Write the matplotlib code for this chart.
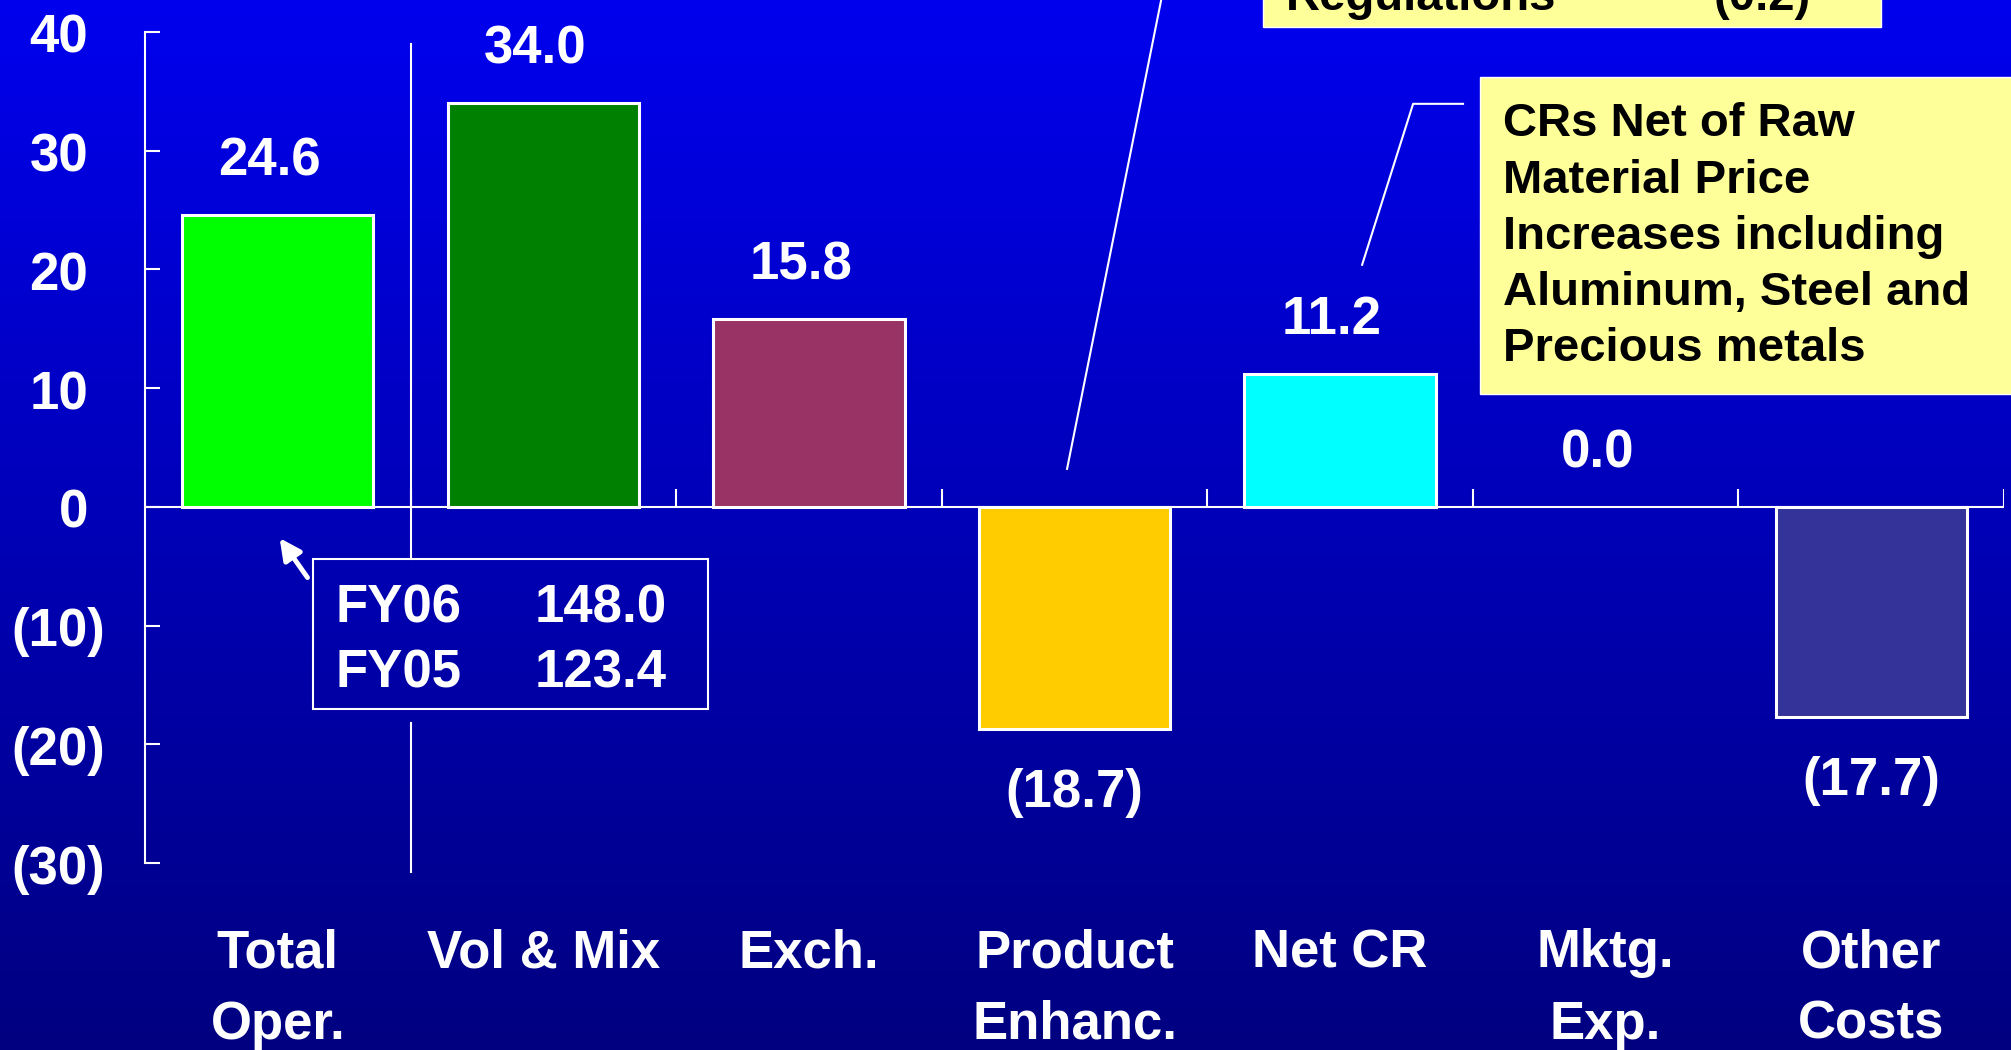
import numpy as np
import matplotlib
matplotlib.use("Agg")
import matplotlib.pyplot as plt
from matplotlib.patches import Rectangle
from matplotlib.colors import LinearSegmentedColormap

plt.rcParams["font.family"] = ["Liberation Sans", "DejaVu Sans"]
plt.rcParams["font.weight"] = "bold"

# operating income bridge, FY05 -> FY06
categories = ["Total\nOper.", "Vol & Mix", "Exch.", "Product\nEnhanc.", "Net CR", "Mktg.\nExp.", "Other\nCosts"]
values = [24.6, 34.0, 15.8, -18.7, 11.2, 0.0, -17.7]
bar_colors = ["#00FF00", "#008000", "#993366", "#FFCC00", "#00FFFF", "#0000CC", "#333399"]
y_ticks = [40, 30, 20, 10, 0, -10, -20, -30]

fy_years = ["FY06", "FY05"]
fy_totals = [148.0, 123.4]

cr_note = ["CRs Net of Raw", "Material Price", "Increases including", "Aluminum, Steel and", "Precious metals"]
reg_label = "Regulations"
reg_value = -0.2


def fmt(v, digits=1):
    s = f"{abs(v):.{digits}f}"
    return f"({s})" if v < 0 else s


W, H = 2011, 1050
fig = plt.figure(figsize=(W / 100, H / 100), dpi=100)

# blue gradient background
bg = fig.add_axes([0, 0, 1, 1], zorder=0)
cmap = LinearSegmentedColormap.from_list("bg", ["#0000EE", "#000080"])
bg.imshow(np.linspace(0, 1, 256).reshape(-1, 1), aspect="auto", cmap=cmap,
          extent=[0, 1, 0, 1], origin="upper")
bg.axis("off")

ax = fig.add_axes([145 / W, 1 - 863 / H, 1859 / W, 831 / H], zorder=1)
ax.set_facecolor("none")

x = np.arange(len(values))
edges = ["white" if v != 0 else "none" for v in values]
ax.bar(x, values, width=0.72, color=bar_colors, edgecolor=edges, linewidth=2.2, zorder=3)

ax.set_xlim(-0.5, len(values) - 0.5)
ax.set_ylim(-30, 40)

ax.axhline(0, color="white", lw=1.5, zorder=2)
ax.vlines(x + 0.5, 0, 1.5, color="white", lw=1.5, zorder=2)

for s in ["top", "right", "bottom"]:
    ax.spines[s].set_visible(False)
ax.spines["left"].set_color("white")
ax.spines["left"].set_linewidth(1.5)

ax.set_yticks(y_ticks)
ax.tick_params(axis="y", direction="in", length=11, width=1.5, color="white", labelleft=False)
for t in y_ticks:
    ax.annotate(fmt(t, 0), (0, t), xycoords=("axes fraction", "data"),
                xytext=(-29 if t < 0 else -41, -1), textcoords="offset points",
                ha="right", va="center_baseline", color="white", fontsize=38)

ax.set_xticks(x)
ax.set_xticklabels(categories, color="white", fontsize=38, linespacing=1.55)
ax.tick_params(axis="x", length=0, pad=47)

# value labels, positives keep the space a ")" would take
for xi, v in zip(x, values):
    dy = 38.5 if v >= 0 else -46
    dx = -6 if v >= 0 else 0
    ax.annotate(fmt(v), (xi, v), xytext=(dx, dy), textcoords="offset points",
                ha="center", va="center", color="white", fontsize=38)

# FY totals box
box_l, box_r, box_b, box_t = 0.133, 1.62, -17.0, -4.38
ax.add_patch(Rectangle((box_l, box_b), box_r - box_l, box_t - box_b, fill=False,
                       edgecolor="white", lw=1.5, zorder=4))
for yr, tot, yy in zip(fy_years, fy_totals, [-8.6, -14.0]):
    ax.text(0.219, yy, yr, ha="left", va="center", color="white", fontsize=38)
    ax.text(1.466, yy, f"{tot:.1f}", ha="right", va="center", color="white", fontsize=38)
ax.annotate("", xy=(0.001, -2.44), xytext=(0.118, -6.15),
            arrowprops=dict(arrowstyle="-|>", color="white", lw=3.5, mutation_scale=32))

ax.plot([0.5, 0.5], [39.0, box_t], color="white", lw=1.5, zorder=2)
ax.plot([0.5, 0.5], [box_b - 1.2, -30.8], color="white", lw=1.5, zorder=2, clip_on=False)

# regulations note at the top, running off the page
ax.add_patch(Rectangle((3.71, 40.43), 6.037 - 3.71, 10, facecolor="#FFFF99",
                       edgecolor="white", lw=1, clip_on=False, zorder=4))
ax.text(3.796, 41.87, reg_label, ha="left", va="baseline", color="black",
        fontsize=34, clip_on=False, zorder=5)
ax.text(5.773, 41.87, fmt(reg_value), ha="right", va="baseline", color="black",
        fontsize=34, clip_on=False, zorder=5)
ax.plot([3.356, 2.972], [46.0, 3.2], color="white", lw=1.5, clip_on=False, zorder=2)

# raw material note
ax.add_patch(Rectangle((4.527, 9.52), 3.0, 36.2 - 9.52, facecolor="#FFFF99",
                       edgecolor="white", lw=1, clip_on=False, zorder=4))
ax.text(4.613, 22.75, "\n".join(cr_note), ha="left", va="center", color="black",
        fontsize=34, linespacing=1.36, clip_on=False, zorder=5)
ax.plot([4.463, 4.275, 4.083], [33.95, 33.95, 20.39], color="white", lw=1.5,
        clip_on=False, zorder=2)

fig.savefig("out.png", dpi=100)
